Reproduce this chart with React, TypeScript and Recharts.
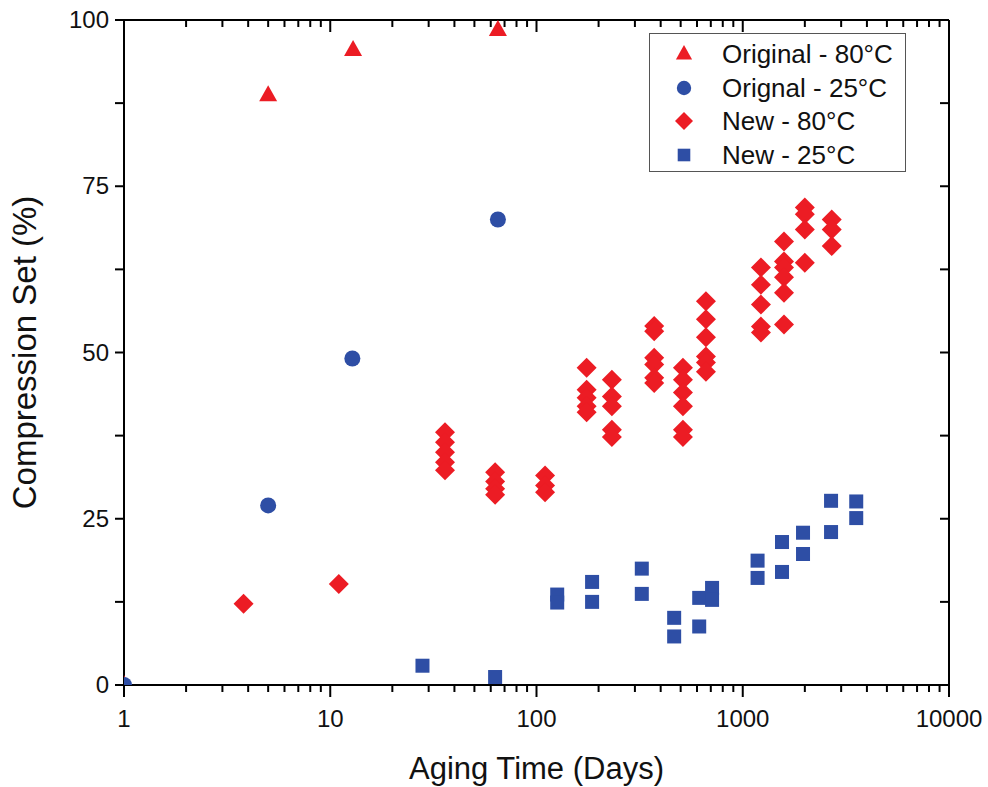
import React from "react";
import {
    ScatterChart,
    Scatter,
    XAxis,
    YAxis,
    Legend,
} from "recharts";

document.body.style.margin = "0";

const RED = "#ec1c24";
const BLUE = "#2e4ea5";
const FONT = "'Liberation Sans', Arial, sans-serif";

// Original formulation, 80°C
const origHotDays = [1, 5, 12.9, 65];
const origHotSet = [0, 88.7, 95.5, 98.5];

// Original formulation, 25°C
const origRoomDays = [1, 5, 12.8, 65];
const origRoomSet = [0, 27, 49.1, 70];

// New formulation, 80°C
const newHotDays = [
    3.8, 11,
    36, 36, 36, 36, 36,
    63, 63, 63, 63,
    110, 110, 110,
    175, 175, 175, 175, 175,
    232, 232, 232, 232, 232,
    372, 372, 372, 372, 372, 372,
    513, 513, 513, 513, 513, 513,
    663, 663, 663, 663, 663, 663,
    1225, 1225, 1225, 1225, 1225,
    1585, 1585, 1585, 1585, 1585, 1585,
    2000, 2000, 2000, 2000,
    2700, 2700, 2700,
];
const newHotSet = [
    12.2, 15.2,
    38, 36.5, 35, 33.5, 32.3,
    32, 30.6, 29.5, 28.6,
    31.5, 30, 29,
    47.7, 44.4, 43.2, 41.9, 41,
    45.9, 43.4, 41.9, 38.4, 37.3,
    54, 53.2, 49.2, 48.2, 46.2, 45.4,
    47.7, 45.9, 44, 41.9, 38.4, 37.3,
    57.7, 55, 52.3, 49.4, 48.5, 47.1,
    62.8, 60.2, 57.2, 53.9, 53,
    66.7, 63.7, 62.8, 61.3, 59, 54.2,
    71.8, 70.8, 68.5, 63.5,
    70, 68.5, 66,
];

// New formulation, 25°C
const newRoomDays = [
    28, 63,
    126, 126,
    186, 186,
    324, 324,
    465, 465,
    615, 615,
    710, 710,
    1180, 1180,
    1550, 1550,
    1960, 1960,
    2680, 2680,
    3550, 3550,
];
const newRoomSet = [
    2.9, 1.2,
    13.6, 12.4,
    15.5, 12.5,
    17.5, 13.7,
    10.1, 7.3,
    13.1, 8.8,
    14.6, 12.8,
    18.7, 16.1,
    21.5, 17,
    22.9, 19.7,
    27.7, 23,
    27.6, 25.1,
];

const xTicks = [
    1, 2, 3, 4, 5, 6, 7, 8, 9,
    10, 20, 30, 40, 50, 60, 70, 80, 90,
    100, 200, 300, 400, 500, 600, 700, 800, 900,
    1000, 2000, 3000, 4000, 5000, 6000, 7000, 8000, 9000,
    10000,
];
const yTicks = [0, 12.5, 25, 37.5, 50, 62.5, 75, 87.5, 100];

const legendLabels = [
    "Original - 80°C",
    "Orignal - 25°C",
    "New - 80°C",
    "New - 25°C",
];

const zip = (xs: number[], ys: number[]) => xs.map((x, i) => ({ x, y: ys[i] }));

const isDecade = (v: number) => Math.abs(Math.log10(v) - Math.round(Math.log10(v))) < 1e-9;

const Triangle = ({ cx, cy }: any) => (
    <polygon points={`${cx},${cy - 10} ${cx - 9},${cy + 6} ${cx + 9},${cy + 6}`} fill={RED} />
);
const Dot = ({ cx, cy }: any) => <circle cx={cx} cy={cy} r={8} fill={BLUE} />;
const Diamond = ({ cx, cy }: any) => (
    <polygon points={`${cx},${cy - 10} ${cx + 10},${cy} ${cx},${cy + 10} ${cx - 10},${cy}`} fill={RED} />
);
const Square = ({ cx, cy }: any) => <rect x={cx - 7} y={cy - 7} width={14} height={14} fill={BLUE} />;
const Nothing = () => <g />;

const BottomTick = ({ x, y, payload }: any) => {
    const major = isDecade(payload.value);
    return (
        <g>
            <line x1={x} x2={x} y1={y} y2={y + (major ? 12 : 7)} stroke="#000" strokeWidth={2} />
            {major && (
                <text x={x} y={y + 42} textAnchor="middle" fontSize={24} fontFamily={FONT} fill="#111">
                    {payload.value}
                </text>
            )}
        </g>
    );
};

// mirrored axes: tick marks point into the plot
const TopTick = ({ x, payload }: any) => {
    const major = isDecade(payload.value);
    return <line x1={x} x2={x} y1={20} y2={20 + (major ? 12 : 7)} stroke="#000" strokeWidth={2} />;
};

const LeftTick = ({ x, y, payload }: any) => {
    const labelled = payload.value % 25 === 0;
    return (
        <g>
            <line x1={x - 9} x2={x} y1={y} y2={y} stroke="#000" strokeWidth={2} />
            {labelled && (
                <text x={x - 15} y={y + 8} textAnchor="end" fontSize={24} fontFamily={FONT} fill="#111">
                    {payload.value}
                </text>
            )}
        </g>
    );
};

const RightTick = ({ y }: any) => (
    <line x1={940} x2={949} y1={y} y2={y} stroke="#000" strokeWidth={2} />
);

const legendShapes = [Triangle, Dot, Diamond, Square];

const renderLegend = () => (
    <div
        style={{
            width: 255,
            height: 137,
            border: "1.5px solid #555",
            background: "#fff",
            position: "relative",
            fontFamily: FONT,
        }}
    >
        {legendLabels.map((label, i) => {
            const Shape = legendShapes[i];
            return (
                <div
                    key={label}
                    style={{ position: "absolute", left: 0, top: 20 + i * 33.7 - 17, height: 34, width: 255 }}
                >
                    <svg width={50} height={34} style={{ position: "absolute", left: 9, top: 0 }}>
                        <g transform="translate(25,17) scale(0.9) translate(-25,-17)">
                            <Shape cx={25} cy={17} />
                        </g>
                    </svg>
                    <span
                        style={{
                            position: "absolute",
                            left: 72,
                            top: 0,
                            lineHeight: "34px",
                            fontSize: 26,
                            color: "#111",
                            whiteSpace: "nowrap",
                        }}
                    >
                        {label}
                    </span>
                </div>
            );
        })}
    </div>
);

export default function App() {
    return (
        <ScatterChart
            width={988}
            height={787}
            margin={{ top: 10, right: 29, bottom: 0, left: 0 }}
        >
            <XAxis
                xAxisId="bottom"
                dataKey="x"
                type="number"
                scale="log"
                domain={[1, 10000]}
                ticks={xTicks}
                interval={0}
                allowDataOverflow
                height={102}
                tickSize={0}
                tickMargin={0}
                tick={<BottomTick />}
                axisLine={{ stroke: "#000", strokeWidth: 2 }}
                label={{
                    value: "Aging Time (Days)",
                    position: "center",
                    dy: 32,
                    style: { fontSize: 31, fontFamily: FONT, fill: "#111" },
                }}
            />
            <XAxis
                xAxisId="top"
                orientation="top"
                dataKey="x"
                type="number"
                scale="log"
                domain={[1, 10000]}
                ticks={xTicks}
                interval={0}
                allowDataOverflow
                height={10}
                tickSize={0}
                tickMargin={0}
                tick={<TopTick />}
                axisLine={{ stroke: "#000", strokeWidth: 2 }}
            />
            <YAxis
                yAxisId="left"
                dataKey="y"
                type="number"
                domain={[0, 100]}
                ticks={yTicks}
                interval={0}
                allowDataOverflow
                width={124}
                tickSize={0}
                tickMargin={0}
                tick={<LeftTick />}
                axisLine={{ stroke: "#000", strokeWidth: 2 }}
                label={{
                    value: "Compression Set (%)",
                    angle: -90,
                    position: "center",
                    dx: -38,
                    style: { fontSize: 33, fontFamily: FONT, fill: "#111", textAnchor: "middle" },
                }}
            />
            <YAxis
                yAxisId="right"
                orientation="right"
                dataKey="y"
                type="number"
                domain={[0, 100]}
                ticks={yTicks}
                interval={0}
                allowDataOverflow
                width={10}
                tickSize={0}
                tickMargin={0}
                tick={<RightTick />}
                axisLine={{ stroke: "#000", strokeWidth: 2 }}
            />
            <Legend
                layout="vertical"
                align="center"
                verticalAlign="middle"
                content={renderLegend}
                wrapperStyle={{ left: 649, top: 33, width: 258, height: 140 }}
            />
            {/* invisible series so the mirrored top/right axes get drawn */}
            <Scatter
                data={zip([1], [0])}
                xAxisId="top"
                yAxisId="right"
                shape={<Nothing />}
                legendType="none"
                isAnimationActive={false}
            />
            <Scatter
                name={legendLabels[0]}
                data={zip(origHotDays, origHotSet)}
                xAxisId="bottom"
                yAxisId="left"
                shape={<Triangle />}
                isAnimationActive={false}
            />
            <Scatter
                name={legendLabels[1]}
                data={zip(origRoomDays, origRoomSet)}
                xAxisId="bottom"
                yAxisId="left"
                shape={<Dot />}
                isAnimationActive={false}
            />
            <Scatter
                name={legendLabels[2]}
                data={zip(newHotDays, newHotSet)}
                xAxisId="bottom"
                yAxisId="left"
                shape={<Diamond />}
                isAnimationActive={false}
            />
            <Scatter
                name={legendLabels[3]}
                data={zip(newRoomDays, newRoomSet)}
                xAxisId="bottom"
                yAxisId="left"
                shape={<Square />}
                isAnimationActive={false}
            />
        </ScatterChart>
    );
}
